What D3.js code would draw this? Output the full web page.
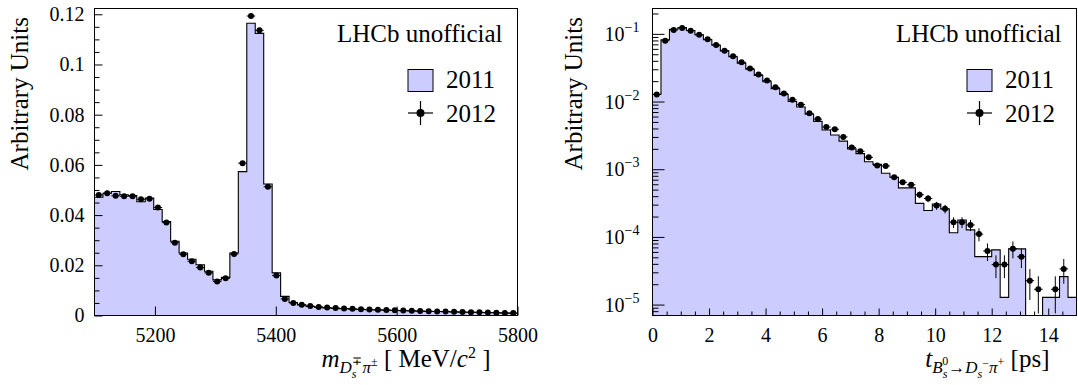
<!DOCTYPE html>
<html><head><meta charset="utf-8">
<script src="https://cdn.jsdelivr.net/npm/d3@7"></script>
<style>body{margin:0;background:#fff}svg{display:block}</style>
</head><body>
<svg id="c" width="1078" height="385"></svg>
<script>
// ---------------- DATA ----------------
// Left panel: invariant mass, 50 bins of 14 MeV/c^2 from 5100 to 5800
const massStart = 5100, massBinWidth = 14, massBinCount = 50;
const mass2011 = [0.0471,0.0487,0.0494,0.0481,0.0478,0.0453,0.0468,0.0422,0.0374,0.0296,
  0.0249,0.0224,0.0202,0.0176,0.0142,0.0152,0.0249,0.0573,0.1164,0.1124,
  0.0524,0.0170,0.0076,0.0052,0.0042,0.0036,0.0033,0.0030,0.0028,0.0027,
  0.0025,0.0024,0.0023,0.0022,0.0021,0.0020,0.0019,0.0018,0.0017,0.0016,
  0.0016,0.0015,0.0014,0.0013,0.0013,0.0012,0.0011,0.0011,0.0010,0.0009];
const mass2012 = [0.0480,0.0487,0.0477,0.0475,0.0475,0.0463,0.0465,0.0430,0.0370,0.0290,
  0.0244,0.0216,0.0191,0.0170,0.0135,0.0148,0.0245,0.0607,0.1193,0.1136,
  0.0513,0.0159,0.0066,0.0050,0.0043,0.0038,0.0034,0.0032,0.0030,0.0028,
  0.0027,0.0025,0.0024,0.0023,0.0022,0.0021,0.0020,0.0019,0.0018,0.0017,
  0.0016,0.0016,0.0015,0.0014,0.0013,0.0013,0.0012,0.0011,0.0010,0.0010];
const mass2012Err = [0.0005,0.0005,0.0005,0.0005,0.0005,0.0005,0.0005,0.00048,0.00044,0.00039,
  0.00036,0.00034,0.00032,0.0003,0.00027,0.00028,0.00036,0.00057,0.00079,0.00078,
  0.00052,0.00029,0.00019,0.00016,0.00015,0.00014,0.00013,0.00013,0.00013,0.00012,
  0.00012,0.00012,0.00011,0.00011,0.00011,0.00011,0.0001,0.0001,0.0001,0.0001,
  0.00009,0.00009,0.00009,0.00009,0.00008,0.00008,0.00008,0.00008,0.00007,0.00007];
const massTicks = [5200,5400,5600,5800];
const massYTicks = [0,0.02,0.04,0.06,0.08,0.1,0.12];
const massYTickLabels = ["0","0.02","0.04","0.06","0.08","0.1","0.12"];

// Right panel: decay time, 50 bins of 0.3 ps from 0 to 15
const timeStart = 0, timeBinWidth = 0.3, timeBinCount = 50;
const time2011 = [0.0128,0.082,0.117,0.124,0.112,0.097,0.082,0.068,0.056,0.046,
  0.037,0.030,0.0242,0.0196,0.0155,0.0127,0.0100,0.0083,0.0065,0.0051,
  0.0038,0.0032,0.0026,0.0020,0.0017,0.00129,0.00118,0.00087,0.00076,0.00053,
  0.00053,0.000313,0.000245,0.000307,0.000259,0.000115,0.000178,0.000127,0.0000512,0.0000512,
  0.0000643,0.0000128,0.0000665,0.0000665,0,0,0.0000128,0.0000128,0.0000259,0.0000128];
const time2012 = [0.0127,0.079,0.114,0.122,0.1115,0.097,0.083,0.0686,0.0565,0.0466,
  0.038,0.0309,0.025,0.0204,0.0162,0.0132,0.0106,0.0090,0.0067,0.0055,
  0.0042,0.0039,0.0030,0.0021,0.00184,0.0015,0.00114,0.00112,0.00076,0.00064,
  0.00059,0.00042,0.00037,0.00029,0.00026,0.000165,0.000165,0.00015,0.00011,0.000062,
  0.000039,0.000039,0.000067,0.000051,0.0000226,0.0000168,0,0.0000168,0.0000337,0];
const time2012Err = [0.00026,0.00065,0.00078,0.0008,0.00077,0.00072,0.00066,0.0006,0.00055,0.0005,
  0.00045,0.0004,0.00036,0.00033,0.00029,0.00026,0.00024,0.00022,0.00019,0.00017,
  0.00015,0.00014,0.00013,0.00011,0.000099,0.000089,0.000078,0.000077,0.000063,0.000058,
  0.000056,0.000047,0.000044,0.000039,0.000037,0.00003,0.00003,0.000028,0.000024,0.000018,
  0.0000144,0.0000144,0.0000188,0.0000164,0.0000109,0.0000094,0,0.0000094,0.0000134,0];
const timeTicks = [0,2,4,6,8,10,12,14];
const timeYDecades = [-5,-4,-3,-2,-1];

// ---------------- DRAWING ----------------
const FONT = "'Liberation Serif', serif";
const FILL = "#ccccff";
const svg = d3.select("#c");
svg.append("rect").attr("width",1078).attr("height",385).attr("fill","#fff");

function edgesOf(start, w, n){ return d3.range(n+1).map(i => start + i*w); }

function txt(sel, size){ return sel.style("font-family", FONT).style("font-size", size + "px").style("fill","#000"); }

function styleAxis(g, size){
  g.select(".domain").remove();
  g.attr("font-family", null).attr("font-size", null);
  g.selectAll("line").attr("stroke","#000").attr("stroke-width",1);
  txt(g.selectAll("text"), size || 20);
}

function panel(o){
  const g = svg.append("g");
  const {x, y, fx0, fx1, fy0, fy1} = o;
  const edges = o.edges, n = edges.length - 1;
  const yc = v => { if (!(v > 0) && o.log) return fy1; const p = y(v); return Math.max(fy0, Math.min(fy1, p)); };
  const pts = o.h2011.map((v,i) => [edges[i], v]);
  pts.push([edges[n], o.h2011[n-1]]);
  g.append("path").datum(pts)
    .attr("d", d3.area().curve(d3.curveStepAfter).x(d => x(d[0])).y0(fy1).y1(d => yc(d[1])))
    .attr("fill", FILL).attr("stroke","none");
  o.axes(g);
  g.append("path").datum(pts)
    .attr("d", d3.line().curve(d3.curveStepAfter).x(d => x(d[0])).y(d => yc(d[1])))
    .attr("fill","none").attr("stroke","#000").attr("stroke-width",1.1);
  const pg = g.append("g");
  o.p2012.forEach((v,i) => {
    if (!(v > 0)) return;
    const cx = x((edges[i]+edges[i+1])/2), cy = yc(v);
    const e = o.e2012[i];
    pg.append("line").attr("x1", x(edges[i])).attr("x2", x(edges[i+1])).attr("y1",cy).attr("y2",cy)
      .attr("stroke","#000").attr("stroke-width",1);
    pg.append("line").attr("x1",cx).attr("x2",cx).attr("y1", yc(v+e)).attr("y2", (v-e>0)? yc(v-e) : fy1)
      .attr("stroke","#000").attr("stroke-width",1);
    pg.append("circle").attr("cx",cx).attr("cy",cy).attr("r",3).attr("fill","#000");
  });
  g.append("rect").attr("x",fx0).attr("y",fy0).attr("width",fx1-fx0).attr("height",fy1-fy0)
    .attr("fill","none").attr("stroke","#000").attr("stroke-width",1);
  txt(g.append("text").attr("x", fx1-15).attr("y", 42).attr("text-anchor","end"), 25).text("LHCb unofficial");
  const lx = fx1 - 109.5;
  g.append("rect").attr("x",lx).attr("y",69.5).attr("width",25).attr("height",22)
    .attr("fill",FILL).attr("stroke","#000").attr("stroke-width",1);
  txt(g.append("text").attr("x",lx+38).attr("y",88), 25).text("2011");
  g.append("line").attr("x1",lx).attr("x2",lx+25).attr("y1",113).attr("y2",113).attr("stroke","#000").attr("stroke-width",1.2);
  g.append("line").attr("x1",lx+12.5).attr("x2",lx+12.5).attr("y1",101).attr("y2",125).attr("stroke","#000").attr("stroke-width",1.2);
  g.append("circle").attr("cx",lx+12.5).attr("cy",113).attr("r",4).attr("fill","#000");
  txt(g.append("text").attr("x",lx+38).attr("y",121.5), 25).text("2012");
  txt(g.append("text").attr("transform",`translate(${o.yTitleX},17) rotate(-90)`).attr("text-anchor","end"), 25)
    .text("Arbitrary Units");
  const t = txt(g.append("text").attr("x", fx1-27).attr("y", 367).attr("text-anchor","end"), 25);
  o.xTitle.forEach(p => {
    const s = t.append("tspan").text(p.t).style("font-size", (p.s || 25) + "px");
    if (p.i) s.style("font-style","italic");
    if (p.dy) s.attr("dy", p.dy);
    if (p.dx) s.attr("dx", p.dx);
  });
}

// ---- left panel ----
(function(){
  const fx0=94.5, fx1=517.5, fy0=8.5, fy1=315.5;
  const edges = edgesOf(massStart, massBinWidth, massBinCount);
  const x = d3.scaleLinear().domain([edges[0], edges[edges.length-1]]).range([fx0, fx1]);
  const y = d3.scaleLinear().domain([0, 0.1223]).range([fy1, fy0]);
  panel({x, y, fx0, fx1, fy0, fy1, edges, h2011: mass2011, p2012: mass2012, e2012: mass2012Err, yTitleX: 28,
    axes: g => {
      const minors = d3.range(0, 0.1201, 0.005).filter(v => Math.abs(v/0.02 - Math.round(v/0.02)) > 1e-6);
      g.append("g").attr("transform",`translate(${fx0},0)`)
        .call(d3.axisLeft(y).tickValues(minors).tickSize(-5).tickFormat(""))
        .call(a => styleAxis(a));
      g.append("g").attr("transform",`translate(${fx0},0)`)
        .call(d3.axisLeft(y).tickValues(massYTicks).tickSize(-8).tickPadding(10).tickFormat((d,i) => massYTickLabels[i]))
        .call(a => styleAxis(a));
      g.append("g").attr("transform",`translate(0,${fy1})`)
        .call(d3.axisBottom(x).tickValues(massTicks).tickSize(-9).tickPadding(12).tickFormat(d3.format("d")))
        .call(a => styleAxis(a));
    },
    xTitle: [
      {t:"m", i:true},
      {t:"D", i:true, s:17, dy:6},
      {t:"s", i:true, s:12, dy:5},
      {t:"∓", s:12, dy:-13, dx:-5},
      {t:"π", i:true, s:17, dy:8, dx:1},
      {t:"±", s:12, dy:-7},
      {t:" [ MeV/", dy:1},
      {t:"c", i:true},
      {t:"2", s:16, dy:-9},
      {t:" ]", dy:9}
    ]
  });
})();

// ---- right panel ----
(function(){
  const fx0=652.5, fx1=1076.5, fy0=8.5, fy1=315.5;
  const edges = edgesOf(timeStart, timeBinWidth, timeBinCount);
  const x = d3.scaleLinear().domain([edges[0], edges[edges.length-1]]).range([fx0, fx1]);
  const y = d3.scaleLog().domain([6.9e-6, 0.237]).range([fy1, fy0]);
  panel({x, y, fx0, fx1, fy0, fy1, edges, h2011: time2011, p2012: time2012, e2012: time2012Err, yTitleX: 582, log: true,
    axes: g => {
      const majors = timeYDecades.map(k => Math.pow(10,k));
      const minors = [];
      for (let k=-6;k<=-1;k++) for (let m=2;m<=9;m++){ const v=m*Math.pow(10,k); if (v>=6.9e-6 && v<=0.237) minors.push(v); }
      g.append("g").attr("transform",`translate(${fx0},0)`)
        .call(d3.axisLeft(y).tickValues(minors).tickSize(-6).tickFormat(""))
        .call(a => styleAxis(a));
      g.append("g").attr("transform",`translate(${fx0},0)`)
        .call(d3.axisLeft(y).tickValues(majors).tickSize(-12).tickFormat(""))
        .call(a => styleAxis(a));
      timeYDecades.forEach(k => {
        const t = txt(g.append("text").attr("x", fx0-13).attr("y", y(Math.pow(10,k))+7).attr("text-anchor","end"), 20);
        t.append("tspan").text("10");
        t.append("tspan").text("−"+(-k)).style("font-size","14px").attr("dy",-9);
      });
      const xminor = d3.range(0.5, 15, 0.5).filter(v => v % 2 !== 0);
      g.append("g").attr("transform",`translate(0,${fy1})`)
        .call(d3.axisBottom(x).tickValues(xminor).tickSize(-4).tickFormat(""))
        .call(a => styleAxis(a));
      g.append("g").attr("transform",`translate(0,${fy1})`)
        .call(d3.axisBottom(x).tickValues(timeTicks).tickSize(-7).tickPadding(12).tickFormat(d3.format("d")))
        .call(a => styleAxis(a));
    },
    xTitle: [
      {t:"t", i:true},
      {t:"B", i:true, s:17, dy:6},
      {t:"s", i:true, s:12, dy:5},
      {t:"0", s:12, dy:-13, dx:-5},
      {t:"→", s:17, dy:8},
      {t:"D", i:true, s:17},
      {t:"s", i:true, s:12, dy:5},
      {t:"−", s:12, dy:-11},
      {t:"π", i:true, s:17, dy:6},
      {t:"+", s:12, dy:-7},
      {t:" [ps]", dy:1}
    ]
  });
})();
</script>
</body></html>
